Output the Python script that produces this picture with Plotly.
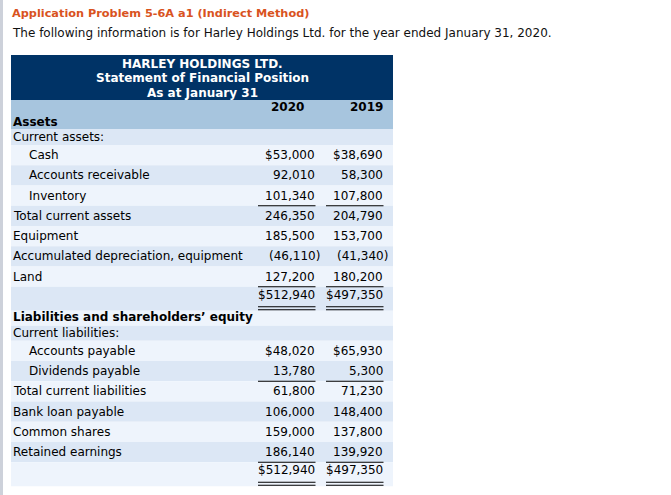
import plotly.graph_objects as go

# ---------------- data ----------------
title_text = "Application Problem 5-6A a1 (Indirect Method)"
subtitle_text = "The following information is for Harley Holdings Ltd. for the year ended January 31, 2020."
header_lines = ["HARLEY HOLDINGS LTD.", "Statement of Financial Position", "As at January 31"]
years = ["2020", "2019"]

asset_section = "Assets"
asset_sub = "Current assets:"
asset_labels = ["Cash", "Accounts receivable", "Inventory", "Total current assets", "Equipment",
                "Accumulated depreciation, equipment", "Land", ""]
asset_2020 = [53000, 92010, 101340, 246350, 185500, -46110, 127200, 512940]
asset_2019 = [38690, 58300, 107800, 204790, 153700, -41340, 180200, 497350]

liab_section = "Liabilities and shareholders\u2019 equity"
liab_sub = "Current liabilities:"
liab_labels = ["Accounts payable", "Dividends payable", "Total current liabilities", "Bank loan payable",
               "Common shares", "Retained earnings", ""]
liab_2020 = [48020, 13780, 61800, 106000, 159000, 186140, 512940]
liab_2019 = [65930, 5300, 71230, 148400, 137800, 139920, 497350]

indented = {"Cash", "Accounts receivable", "Inventory", "Accounts payable", "Dividends payable"}
dollar_rows = {"Cash", "Accounts payable", ""}
underline_before = {"Total current assets", "Total current liabilities"}

# ---------------- style ----------------
W, H = 671, 495
FONT = "DejaVu Sans, Verdana, sans-serif"
NAVY = "#003366"
HEAD_BLUE = "#a7c5de"
ROW_DARK = "#dce7f5"
ROW_LIGHT = "#eef4fc"
TXT = "#000000"
TL, TR = 11, 393
X_LABEL, X_INDENT = 12, 28
COL_R = [315.5, 383.5]
COL_L = [258, 326]
ROW_H, SEC_H, TOT_H = 20.25, 15.0, 24.0

shapes, ann = [], []


def rect(x0, y0, x1, y1, color):
    shapes.append(dict(type="rect", xref="x", yref="y", x0=x0, x1=x1, y0=y0, y1=y1,
                       fillcolor=color, line=dict(width=0), layer="below"))


def hline(x0, x1, y):
    shapes.append(dict(type="line", xref="x", yref="y", x0=x0, x1=x1, y0=y, y1=y,
                       line=dict(color="black", width=1)))


def text(x, y, s, size=12, bold=False, color=TXT, xanchor="left"):
    ann.append(dict(x=x, y=y, xref="x", yref="y", text=("<b>%s</b>" % s) if bold else s,
                    showarrow=False, xanchor=xanchor, yanchor="middle", borderpad=0,
                    font=dict(family=FONT, size=size, color=color)))


def fmt(v, label):
    s = "{:,}".format(abs(v))
    if label in dollar_rows:
        s = "$" + s
    if v < 0:
        s = "(" + s + ")"
    return s


# page border stripe
rect(0, 0, 3, H, "#cdd1da")

# titles
text(11, 13, title_text, size=11.3, bold=True, color="#d9531e")
text(11, 33, subtitle_text, size=12, color="#111111")

# header
rect(TL, 55, TR, 100, NAVY)
for i, line in enumerate(header_lines):
    text((TL + TR) / 2, 64 + i * 14.3, line, bold=True, color="white", xanchor="center")
rect(TL, 100, TR, 129, HEAD_BLUE)
text(304.5, 107, years[0], bold=True, xanchor="right")
text(COL_R[1], 107, years[1], bold=True, xanchor="right")
text(X_LABEL, 122, asset_section, bold=True)

# body rows
rows = [("sub", asset_sub, None, None)]
rows += [("item" if l else "total", l, a, b) for l, a, b in zip(asset_labels, asset_2020, asset_2019)]
rows += [("section", liab_section, None, None), ("sub", liab_sub, None, None)]
rows += [("item" if l else "total", l, a, b) for l, a, b in zip(liab_labels, liab_2020, liab_2019)]

y = 129.0
for idx, (kind, label, v1, v2) in enumerate(rows):
    h = ROW_H if kind == "item" else (TOT_H if kind == "total" else SEC_H)
    if kind == "sub" and idx == 0:
        h = 16.0
    rect(TL, y, TR, y + h, ROW_DARK if idx % 2 == 0 else ROW_LIGHT)
    if kind == "total":
        cy = y + 8
    elif kind == "section":
        cy = y + h / 2 - 1
    else:
        cy = y + h / 2
    if label:
        text(X_INDENT if label in indented else X_LABEL, cy, label, bold=(kind == "section"))
    if v1 is not None:
        for c, v in enumerate((v1, v2)):
            xr = COL_R[c] + (5.5 if v < 0 else 0)
            text(xr, cy, fmt(v, label), xanchor="right")
    if label in underline_before:
        for c in range(2):
            hline(COL_L[c], COL_R[c], y)
    if kind == "total":
        for c in range(2):
            hline(COL_L[c], COL_R[c], y)
            hline(COL_L[c], COL_R[c], y + h - 4)
            hline(COL_L[c], COL_R[c], y + h - 1)
    y += h

fig = go.Figure()
fig.update_layout(
    width=W, height=H, margin=dict(l=0, r=0, t=0, b=0),
    paper_bgcolor="white", plot_bgcolor="white",
    xaxis=dict(range=[0, W], visible=False, fixedrange=True),
    yaxis=dict(range=[H, 0], visible=False, fixedrange=True),
    shapes=shapes, annotations=ann, showlegend=False,
)
fig.write_html("out.html", config={"displayModeBar": False},
               post_script="document.body.style.margin='0';document.body.style.overflow='hidden';")
